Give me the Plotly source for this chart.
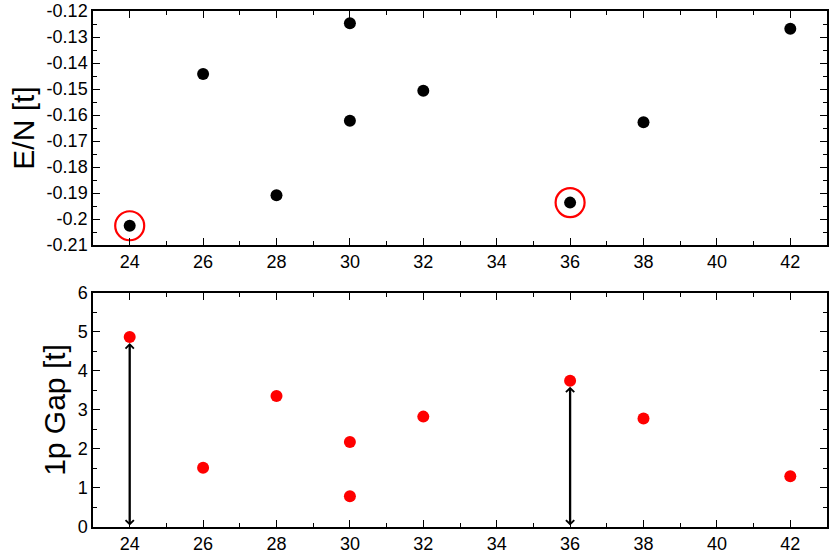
import plotly.graph_objects as go

# Data
N_vals = [24, 26, 28, 30, 30, 32, 36, 38, 42]
EN_vals = [-0.2026, -0.1442, -0.1909, -0.1247, -0.1622, -0.1507, -0.1937, -0.1628, -0.1268]
gap_vals = [4.87, 1.52, 3.36, 2.18, 0.79, 2.83, 3.75, 2.78, 1.30]

highlight_N = [24, 36]
highlight_EN = [-0.2026, -0.1937]
highlight_gap = [4.87, 3.75]

x_ticks = [24, 26, 28, 30, 32, 34, 36, 38, 40, 42]
top_y_ticks = [-0.12, -0.13, -0.14, -0.15, -0.16, -0.17, -0.18, -0.19, -0.20, -0.21]
top_y_labels = ["-0.12", "-0.13", "-0.14", "-0.15", "-0.16", "-0.17", "-0.18", "-0.19", "-0.2", "-0.21"]
bot_y_ticks = [0, 1, 2, 3, 4, 5, 6]

FONT = "Liberation Sans, Arial, sans-serif"

fig = go.Figure()

fig.add_trace(go.Scatter(x=N_vals, y=EN_vals, mode="markers",
                         marker=dict(color="black", size=12),
                         xaxis="x", yaxis="y", showlegend=False))
fig.add_trace(go.Scatter(x=highlight_N, y=highlight_EN, mode="markers",
                         marker=dict(symbol="circle-open", color="red", size=29,
                                     line=dict(width=2.2, color="red")),
                         xaxis="x", yaxis="y", showlegend=False))
fig.add_trace(go.Scatter(x=N_vals, y=gap_vals, mode="markers",
                         marker=dict(color="red", size=12),
                         xaxis="x2", yaxis="y2", showlegend=False))

for n, g in zip(highlight_N, highlight_gap):
    fig.add_annotation(x=n, y=g, ax=n, ay=0, xref="x2", yref="y2",
                       axref="x2", ayref="y2", showarrow=True,
                       arrowhead=4, startarrowhead=4, arrowside="end+start",
                       arrowsize=0.7, startarrowsize=0.7, arrowwidth=2.3,
                       arrowcolor="black", standoff=6, startstandoff=0, text="")

common_x = dict(range=[23, 43], tickmode="array", tickvals=x_ticks,
                ticks="inside", ticklen=7, tickwidth=1.2, tickcolor="black",
                mirror="allticks", showline=True, linecolor="black", linewidth=1.5,
                showgrid=False, zeroline=False, automargin=False,
                tickfont=dict(family=FONT, size=18, color="black"),
                minor=dict(dtick=1, tick0=23, ticks="inside", ticklen=4,
                           tickcolor="black", tickwidth=1.2))

fig.update_layout(
    width=830, height=553,
    margin=dict(l=93, r=3, t=11, b=26),
    plot_bgcolor="white", paper_bgcolor="white",
    font=dict(family=FONT, color="black"),
    xaxis=dict(domain=[0, 1], anchor="y", **common_x),
    xaxis2=dict(domain=[0, 1], anchor="y2", **common_x),
    yaxis=dict(domain=[0.5465, 1], anchor="x", range=[-0.21, -0.12],
               tickmode="array", tickvals=top_y_ticks, ticktext=top_y_labels,
               ticks="inside", ticklen=7, tickwidth=1.2, tickcolor="black",
               mirror="allticks", showline=True, linecolor="black", linewidth=1.5,
               showgrid=False, zeroline=False, automargin=False,
               tickfont=dict(family=FONT, size=18, color="black"),
               minor=dict(dtick=0.005, tick0=-0.21, ticks="inside", ticklen=4,
                          tickcolor="black", tickwidth=1.2),
               title=dict(text="E/N [t]", font=dict(family=FONT, size=30, color="black"),
                          standoff=3)),
    yaxis2=dict(domain=[0, 0.4535], anchor="x2", range=[0, 6],
                tickmode="array", tickvals=bot_y_ticks,
                ticks="inside", ticklen=7, tickwidth=1.2, tickcolor="black",
                mirror="allticks", showline=True, linecolor="black", linewidth=1.5,
                showgrid=False, zeroline=False, automargin=False,
                tickfont=dict(family=FONT, size=18, color="black"),
                minor=dict(dtick=0.5, tick0=0, ticks="inside", ticklen=4,
                           tickcolor="black", tickwidth=1.2),
                title=dict(text="1p Gap [t]", font=dict(family=FONT, size=30, color="black"),
                           standoff=3)),
)

fig.write_html("out.html", config={"displayModeBar": False},
               post_script="document.body.style.margin='0';document.body.style.overflow='hidden';")
